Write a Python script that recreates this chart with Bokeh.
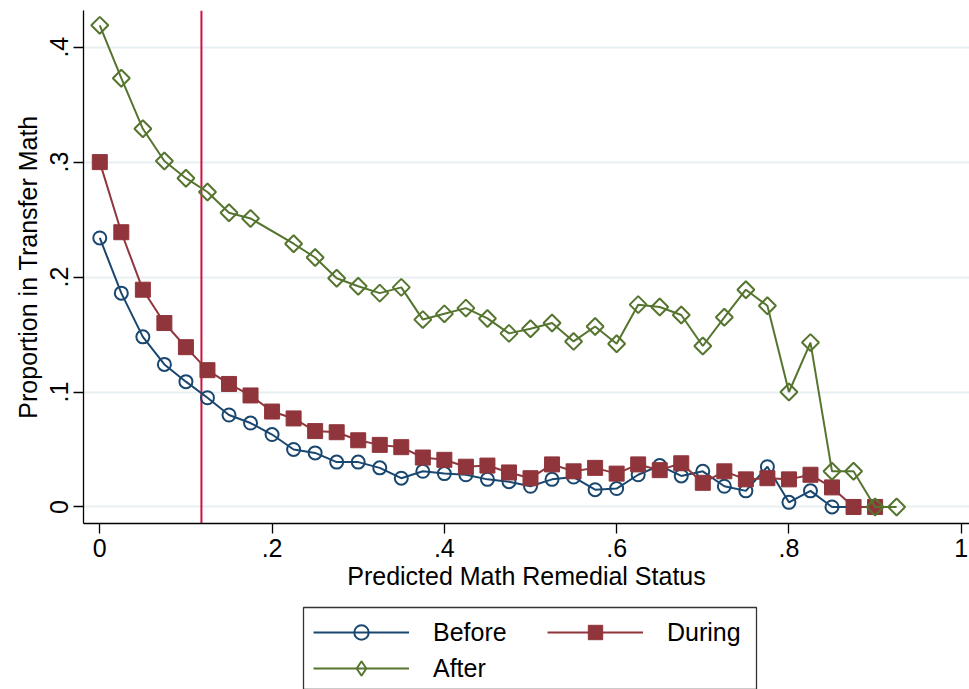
import math
from bokeh.plotting import figure
from bokeh.layouts import column
from bokeh.models import Span, Legend, LegendItem, FixedTicker, Range1d
from bokeh.embed import file_html
from bokeh.resources import INLINE

# ---- data ----
x_vals = [0.0, 0.025, 0.05, 0.075, 0.1, 0.125, 0.15, 0.175, 0.2, 0.225, 0.25, 0.275,
          0.3, 0.325, 0.35, 0.375, 0.4, 0.425, 0.45, 0.475, 0.5, 0.525, 0.55, 0.575,
          0.6, 0.625, 0.65, 0.675, 0.7, 0.725, 0.75, 0.775, 0.8, 0.825, 0.85, 0.875,
          0.9, 0.925]
before = [0.234, 0.186, 0.148, 0.124, 0.109, 0.095, 0.080, 0.073, 0.063, 0.050, 0.047, 0.039,
          0.039, 0.034, 0.025, 0.031, 0.029, 0.028, 0.024, 0.022, 0.018, 0.024, 0.026, 0.015,
          0.016, 0.028, 0.036, 0.027, 0.031, 0.018, 0.014, 0.035, 0.004, 0.014, 0.0, 0.0,
          0.0, None]
during = [0.300, 0.239, 0.189, 0.160, 0.139, 0.119, 0.107, 0.097, 0.083, 0.077, 0.066, 0.065,
          0.058, 0.054, 0.052, 0.043, 0.041, 0.035, 0.036, 0.030, 0.025, 0.037, 0.031, 0.034,
          0.029, 0.037, 0.032, 0.038, 0.021, 0.031, 0.024, 0.025, 0.024, 0.028, 0.017, 0.0,
          0.0, None]
after = [0.419, 0.373, 0.329, 0.301, 0.286, 0.274, 0.256, 0.251, None, 0.229, 0.217, 0.199,
         0.192, 0.186, 0.191, 0.163, 0.168, 0.173, 0.164, 0.151, 0.155, 0.160, 0.144, 0.157,
         0.142, 0.176, 0.174, 0.167, 0.140, 0.165, 0.189, 0.175, 0.100, 0.143, 0.031, 0.031,
         0.0, 0.0]
cutoff = 0.118
series_names = ["Before", "During", "After"]
x_ticks = [0, 0.2, 0.4, 0.6, 0.8, 1]
x_tick_labels = ["0", ".2", ".4", ".6", ".8", "1"]
y_ticks = [0, 0.1, 0.2, 0.3, 0.4]
y_tick_labels = ["0", ".1", ".2", ".3", ".4"]
x_title = "Predicted Math Remedial Status"
y_title = "Proportion in Transfer Math"

FONT = "Liberation Sans"
NAVY = "#1a476f"
MAROON = "#90353b"
GREEN = "#55752f"

W = 969
MAIN_H = 599
LEG_H = 90
LEFT = 83

p = figure(width=W, height=MAIN_H, output_backend="svg", toolbar_location=None,
           x_range=(-0.0189, 1.0096), y_range=(-0.0144, 0.4319),
           min_border_left=LEFT, min_border_right=0, min_border_top=10, min_border_bottom=76)
p.outline_line_color = None
p.background_fill_color = "white"
p.border_fill_color = "white"

# grid
p.xgrid.grid_line_color = None
p.ygrid.grid_line_color = "#e8eff2"
p.ygrid.grid_line_width = 2
p.ygrid.ticker = FixedTicker(ticks=y_ticks)

# axes
for ax in (p.xaxis[0], p.yaxis[0]):
    ax.axis_line_color = "black"
    ax.axis_line_width = 1.3
    ax.major_tick_line_color = "black"
    ax.major_tick_line_width = 1.3
    ax.major_tick_out = 10
    ax.major_tick_in = 0
    ax.minor_tick_line_color = None
    ax.major_label_text_font = FONT
    ax.major_label_text_font_size = "25px"
    ax.major_label_text_color = "black"
    ax.axis_label_text_font = FONT
    ax.axis_label_text_font_size = "25px"
    ax.axis_label_text_font_style = "normal"
    ax.axis_label_text_color = "black"

p.xaxis.ticker = FixedTicker(ticks=x_ticks)
p.xaxis.major_label_overrides = dict(zip(x_ticks, x_tick_labels))
p.xaxis.axis_label = x_title
p.xaxis.major_label_standoff = 5
p.xaxis.axis_label_standoff = 2

p.yaxis.ticker = FixedTicker(ticks=y_ticks)
p.yaxis.major_label_overrides = dict(zip(y_ticks, y_tick_labels))
p.yaxis.major_label_orientation = "vertical"
p.yaxis.axis_label = y_title
p.yaxis.major_label_standoff = 5
p.yaxis.axis_label_standoff = 6

# cutoff line
p.add_layout(Span(location=cutoff, dimension="height", line_color="#cf1142", line_width=2,
                  level="underlay"))


def pts(ys):
    xs2, ys2 = [], []
    for xv, yv in zip(x_vals, ys):
        if yv is not None:
            xs2.append(xv)
            ys2.append(yv)
    return xs2, ys2


xb, yb = pts(before)
xd, yd = pts(during)
xa, ya = pts(after)

CIRCLE = dict(marker="circle", size=13, fill_color="white", fill_alpha=0,
              line_color=NAVY, line_width=2)
SQUARE = dict(marker="square", size=15, fill_color=MAROON, line_color=MAROON, line_width=1)

p.line(xb, yb, line_color=NAVY, line_width=2)
p.scatter(xb, yb, **CIRCLE)
p.line(xd, yd, line_color=MAROON, line_width=2)
p.scatter(xd, yd, **SQUARE)
p.line(xa, ya, line_color=GREEN, line_width=2)
p.scatter(xa, ya, marker="square", size=12, angle=math.pi / 4, fill_color="white",
          fill_alpha=0, line_color=GREEN, line_width=2)

# ---- legend strip below the plot; its frame is aligned with the main frame (x from 83) ----
FW = W - LEFT
lg = figure(width=W, height=LEG_H, output_backend="svg", toolbar_location=None,
            x_range=Range1d(0, FW), y_range=Range1d(0, LEG_H),
            x_axis_type=None, y_axis_type=None,
            min_border_left=LEFT, min_border_right=0, min_border_top=0, min_border_bottom=0)
lg.outline_line_color = None
lg.xgrid.grid_line_color = None
lg.ygrid.grid_line_color = None
lg.background_fill_color = "white"
lg.border_fill_color = "white"

# legend box
lg.quad(left=[303 - LEFT], right=[756 - LEFT], bottom=[0], top=[82], fill_color="white",
        line_color="#333333", line_width=1.3)

OFF = [-1000]
r_lb = lg.line(OFF, OFF, line_color=NAVY, line_width=2)
r_mb = lg.scatter(OFF, OFF, **CIRCLE)
r_ld = lg.line(OFF, OFF, line_color=MAROON, line_width=2)
r_md = lg.scatter(OFF, OFF, **SQUARE)
r_la = lg.line(OFF, OFF, line_color=GREEN, line_width=2)
r_ma = lg.scatter(OFF, OFF, marker="diamond", size=19, fill_color="white", fill_alpha=0,
                  line_color=GREEN, line_width=2)

LEG_STYLE = dict(glyph_width=96, glyph_height=36, label_height=36, label_standoff=24,
                 spacing=0, padding=5, margin=0, label_text_font=FONT,
                 label_text_font_size="25px", label_text_color="black",
                 border_line_color=None, background_fill_alpha=0)

leg_a = Legend(items=[LegendItem(label=series_names[0], renderers=[r_lb, r_mb]),
                      LegendItem(label=series_names[2], renderers=[r_la, r_ma])],
               location=(313 - LEFT, 3), **LEG_STYLE)
leg_b = Legend(items=[LegendItem(label=series_names[1], renderers=[r_ld, r_md])],
               location=(547 - LEFT, 39), **LEG_STYLE)
lg.add_layout(leg_a, "center")
lg.add_layout(leg_b, "center")

layout = column(p, lg, spacing=0)
open("out.html", "w").write(file_html(layout, INLINE))
